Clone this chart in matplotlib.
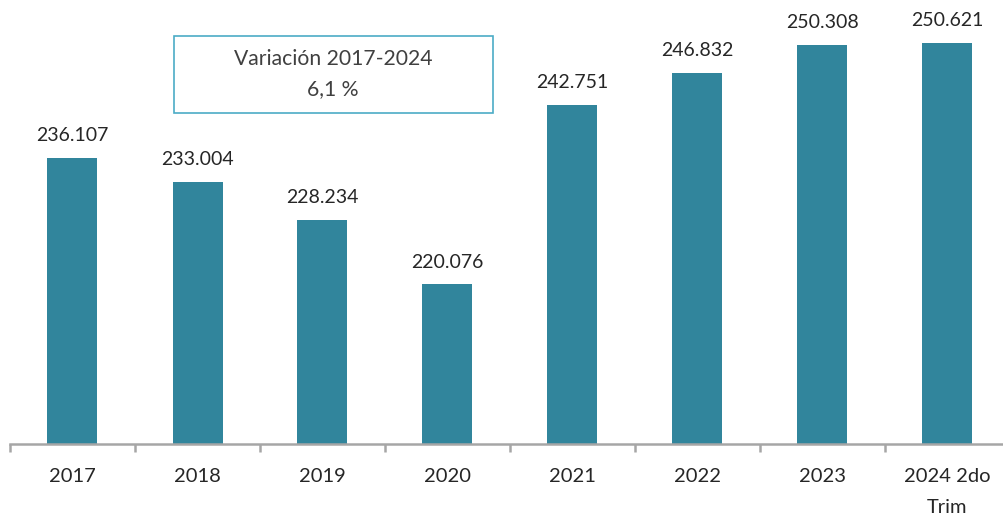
import matplotlib
matplotlib.use("Agg")
import matplotlib.pyplot as plt
from matplotlib.patches import Rectangle

categories = ["2017", "2018", "2019", "2020", "2021", "2022", "2023", "2024 2do\nTrim"]
values = [236.107, 233.004, 228.234, 220.076, 242.751, 246.832, 250.308, 250.621]
value_labels = ["236.107", "233.004", "228.234", "220.076", "242.751", "246.832", "250.308", "250.621"]
box_text = "Variación 2017-2024\n6,1 %"

plt.rcParams['font.family'] = ['Lato', 'DejaVu Sans']
W, H = 1004, 517
fig = plt.figure(figsize=(W/100, H/100), dpi=100)
ax = fig.add_axes([10/W, (H-443.5)/H, 1000/W, 435.6/H])

bar_color = "#31859C"
x = list(range(len(categories)))
ax.bar(x, values, width=0.4, color=bar_color, bottom=0)
ax.set_ylim(200, 255)
ax.set_xlim(-0.5, 7.5)

for xi, v, lab in zip(x, values, value_labels):
    ax.annotate(lab, (xi, v), xytext=(0, 16), textcoords="offset points",
                ha="center", va="center", fontsize=14, color="#262626")

for s in ["top", "right", "left"]:
    ax.spines[s].set_visible(False)
ax.spines["bottom"].set_color("#A6A6A6")
ax.spines["bottom"].set_linewidth(1.8)
ax.set_yticks([])
ax.set_xticks([i - 0.5 for i in range(len(categories) + 1)], minor=False)
ax.set_xticklabels([])
ax.tick_params(axis="x", which="major", length=6, width=1.8, color="#A6A6A6", direction="out")
ax.set_xticks(x, minor=True)
ax.set_xticklabels(categories, minor=True, fontsize=14.5, color="#262626", linespacing=1.95)
ax.tick_params(axis="x", which="minor", length=0, pad=18)

# annotation box
fig.patches.append(Rectangle((174/W, (H-112.5)/H), (493-174)/W, (112.5-35.5)/H,
                             transform=fig.transFigure, fill=False,
                             edgecolor="#4BACC6", linewidth=1.2))
fig.text(333/W, (H-74)/H, box_text, ha="center", va="center", fontsize=15.2,
         color="#404040", linespacing=1.6)

fig.savefig("out.png", dpi=100)
